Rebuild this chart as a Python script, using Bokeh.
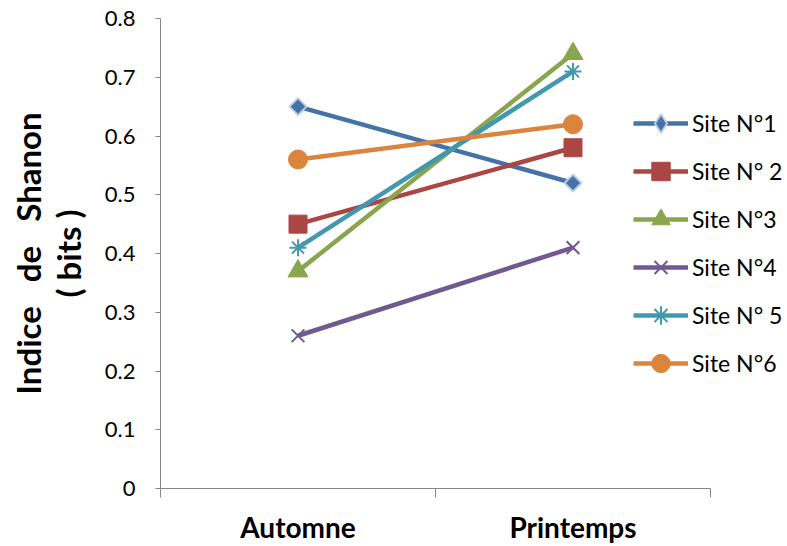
from bokeh.plotting import figure
from bokeh.models import FixedTicker, Legend, LegendItem, Range1d
from bokeh.embed import file_html
from bokeh.resources import INLINE
import math

seasons = ["Automne", "Printemps"]
season_pos = [0.5, 1.5]
sites = ["Site N°1", "Site N° 2", "Site N°3", "Site N°4", "Site N° 5", "Site N°6"]
site1 = [0.65, 0.52]
site2 = [0.45, 0.58]
site3 = [0.37, 0.74]
site4 = [0.26, 0.41]
site5 = [0.41, 0.71]
site6 = [0.56, 0.62]
values = [site1, site2, site3, site4, site5, site6]
y_ticks = [0, 0.1, 0.2, 0.3, 0.4, 0.5, 0.6, 0.7, 0.8]
y_tick_labels = ["0", "0.1", "0.2", "0.3", "0.4", "0.5", "0.6", "0.7", "0.8"]

colors = ["#4572A7", "#AA4643", "#89A54E", "#71588F", "#4198AF", "#DB843D"]
FONT = "Lato"
SP = "\u00a0\u00a0\u00a0"

# frame spans x 160..787; the category axis (0..2) spans 160..710
p = figure(width=787, height=546, output_backend="svg", toolbar_location=None,
           x_range=Range1d(0, 2.28), y_range=Range1d(0, 0.8),
           min_border_left=160, min_border_right=0, min_border_top=18, min_border_bottom=58)
p.outline_line_color = None
p.xgrid.visible = False
p.ygrid.visible = False
p.background_fill_color = "white"
p.border_fill_color = "white"

# y axis
ya = p.yaxis[0]
ya.ticker = FixedTicker(ticks=y_ticks, minor_ticks=[])
ya.major_label_overrides = {t: l for t, l in zip(y_ticks, y_tick_labels)}
ya.axis_line_color = "#868686"
ya.major_tick_line_color = "#868686"
ya.major_tick_out = 5
ya.major_tick_in = 0
ya.minor_tick_line_color = None
ya.major_label_text_font = FONT
ya.major_label_text_font_size = "22px"
ya.major_label_text_color = "black"
ya.major_label_standoff = 20
ya.axis_label = "Indice" + SP + "de" + SP + "Shanon\n( bits )"
ya.axis_label_text_font = FONT
ya.axis_label_text_font_size = "33px"
ya.axis_label_text_font_style = "bold"
ya.axis_label_text_color = "black"
ya.axis_label_text_line_height = 1.0
ya.axis_label_standoff = 14

# x axis
xa = p.xaxis[0]
xa.bounds = (0, 2)
xa.ticker = FixedTicker(ticks=season_pos, minor_ticks=[0, 1, 2])
xa.major_label_overrides = {t: l for t, l in zip(season_pos, seasons)}
xa.axis_line_color = "#868686"
xa.major_tick_line_color = None
xa.major_tick_out = 0
xa.major_tick_in = 0
xa.minor_tick_line_color = "#868686"
xa.minor_tick_out = 9
xa.minor_tick_in = 0
xa.major_label_text_font = FONT
xa.major_label_text_font_size = "28px"
xa.major_label_text_font_style = "bold"
xa.major_label_text_color = "black"
xa.major_label_standoff = 12

markers = ["square", "square", "triangle", "x", "asterisk", "circle"]
sizes = [12, 18, 20, 18, 17, 19]
items = []
for i, (name, vals) in enumerate(zip(sites, values)):
    c = colors[i]
    r_line = p.line(season_pos, vals, line_color=c, line_width=4.5)
    if markers[i] in ("x", "asterisk"):
        r_m = p.scatter(season_pos, vals, marker=markers[i], size=sizes[i],
                        line_color=c, line_width=2, fill_color=c)
        leg = [r_line, r_m]
    elif i == 0:
        # diamond used for the legend symbol, covered by a rotated square in the plot
        r_leg = p.scatter(season_pos, vals, marker="diamond", size=sizes[i],
                          fill_color=c, line_color="#B9CDE5", line_width=2)
        p.scatter(season_pos, vals, marker="square", size=sizes[i], angle=math.pi / 4,
                  fill_color=c, line_color="#B9CDE5", line_width=2)
        leg = [r_line, r_leg]
    else:
        r_m = p.scatter(season_pos, vals, marker=markers[i], size=sizes[i],
                        fill_color=c, line_color=c, line_width=1)
        leg = [r_line, r_m]
    items.append(LegendItem(label=name, renderers=leg))

legend = Legend(items=items, location=(473, 102))
legend.background_fill_alpha = 0
legend.border_line_color = None
legend.padding = 0
legend.margin = 0
legend.spacing = 2
legend.glyph_width = 55
legend.glyph_height = 46
legend.label_height = 46
legend.label_standoff = 4
legend.label_text_font = FONT
legend.label_text_font_size = "23px"
legend.label_text_color = "black"
p.add_layout(legend, "center")

open("out.html", "w").write(file_html(p, INLINE))
